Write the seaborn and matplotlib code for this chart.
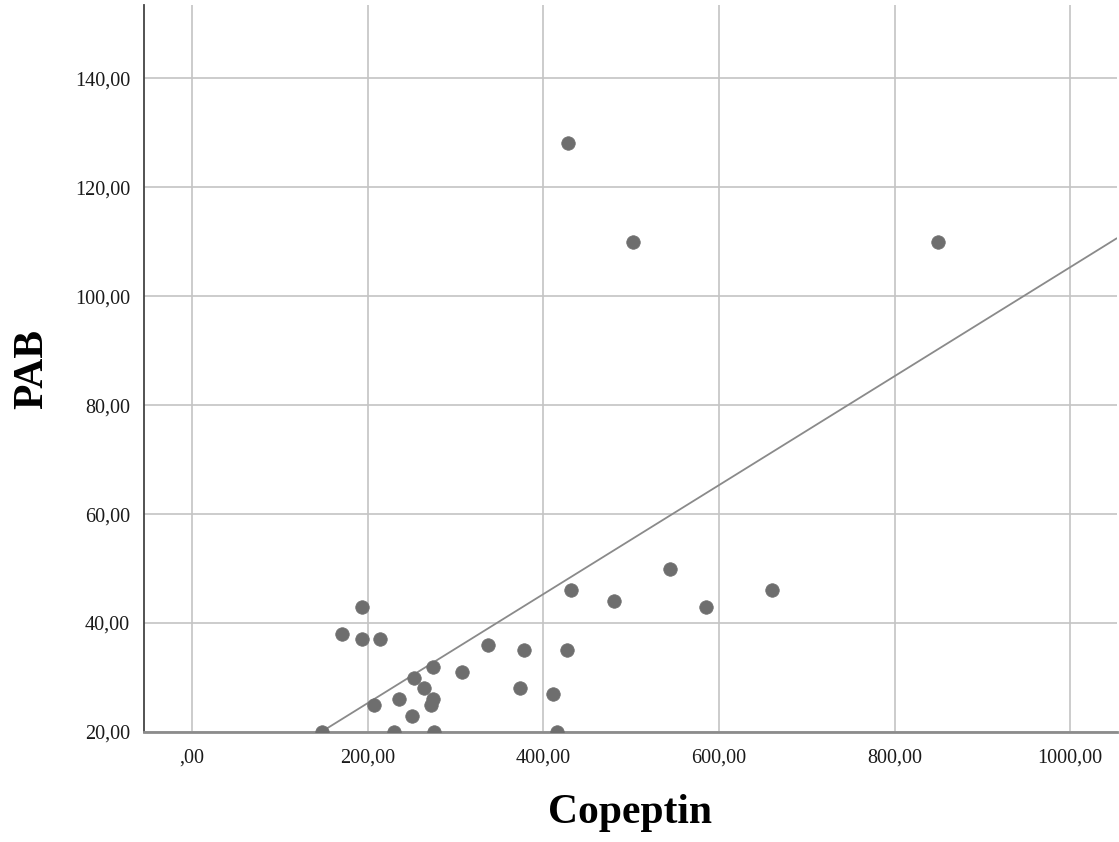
import matplotlib
matplotlib.use("Agg")
import matplotlib.pyplot as plt
import seaborn as sns
import pandas as pd

# ---- data ----
copeptin = [148, 194, 171, 194, 214, 207, 230, 236, 251, 253, 264, 275, 275, 272, 276,
            308, 337, 373, 378, 411, 416, 427, 432, 480, 544, 585, 661, 428, 502, 850]
pab = [20, 43, 38, 37, 37, 25, 20, 26, 23, 30, 28, 32, 26, 25, 20,
       31, 36, 28, 35, 27, 20, 35, 46, 44, 50, 43, 46, 128, 110, 110]
fit_intercept = 5.3
fit_slope = 0.1
x_ticks = [0, 200, 400, 600, 800, 1000]
x_tick_labels = [",00", "200,00", "400,00", "600,00", "800,00", "1000,00"]
y_ticks = [20, 40, 60, 80, 100, 120, 140]
y_tick_labels = ["20,00", "40,00", "60,00", "80,00", "100,00", "120,00", "140,00"]

df = pd.DataFrame({"Copeptin": copeptin, "PAB": pab})

sns.set_style("white")
plt.rcParams["font.family"] = ["Liberation Serif", "DejaVu Serif"]

fig = plt.figure(figsize=(11.19, 8.42), dpi=100)
ax = fig.add_axes([0.1287, 0.1306, 0.998 - 0.1287, 0.994 - 0.1306])

ax.set_xlim(-54.6, 1053)
ax.set_ylim(20, 153.4)

grid_c = "#c4c4c4"
for xv in x_ticks:
    ax.axvline(xv, color=grid_c, lw=1.2, zorder=0)
for yv in y_ticks:
    ax.axhline(yv, color=grid_c, lw=1.2, zorder=0)

ax.axline((0, fit_intercept), slope=fit_slope, color="#8a8a8a", lw=1.3, zorder=2)

sns.scatterplot(data=df, x="Copeptin", y="PAB", ax=ax, s=95, color="#6e6e6e",
                edgecolor="#6e6e6e", linewidth=0.5, zorder=3, clip_on=True)

ax.set_xticks(x_ticks)
ax.set_xticklabels(x_tick_labels)
ax.set_yticks(y_ticks)
ax.set_yticklabels(y_tick_labels)
ax.tick_params(axis="both", length=0, labelsize=14.5, colors="#1a1a1a", pad=10)
ax.tick_params(axis="x", pad=12)

for s in ["top", "right"]:
    ax.spines[s].set_visible(False)
ax.spines["left"].set_color("#444444")
ax.spines["left"].set_linewidth(1.3)
ax.spines["bottom"].set_color("#8c8c8c")
ax.spines["bottom"].set_linewidth(2.0)

ax.set_xlabel("Copeptin", fontsize=30, fontweight="bold", labelpad=19, color="black")
ax.set_ylabel("PAB", fontsize=30, fontweight="bold", labelpad=17, color="black")

fig.savefig("out.png", dpi=100)
